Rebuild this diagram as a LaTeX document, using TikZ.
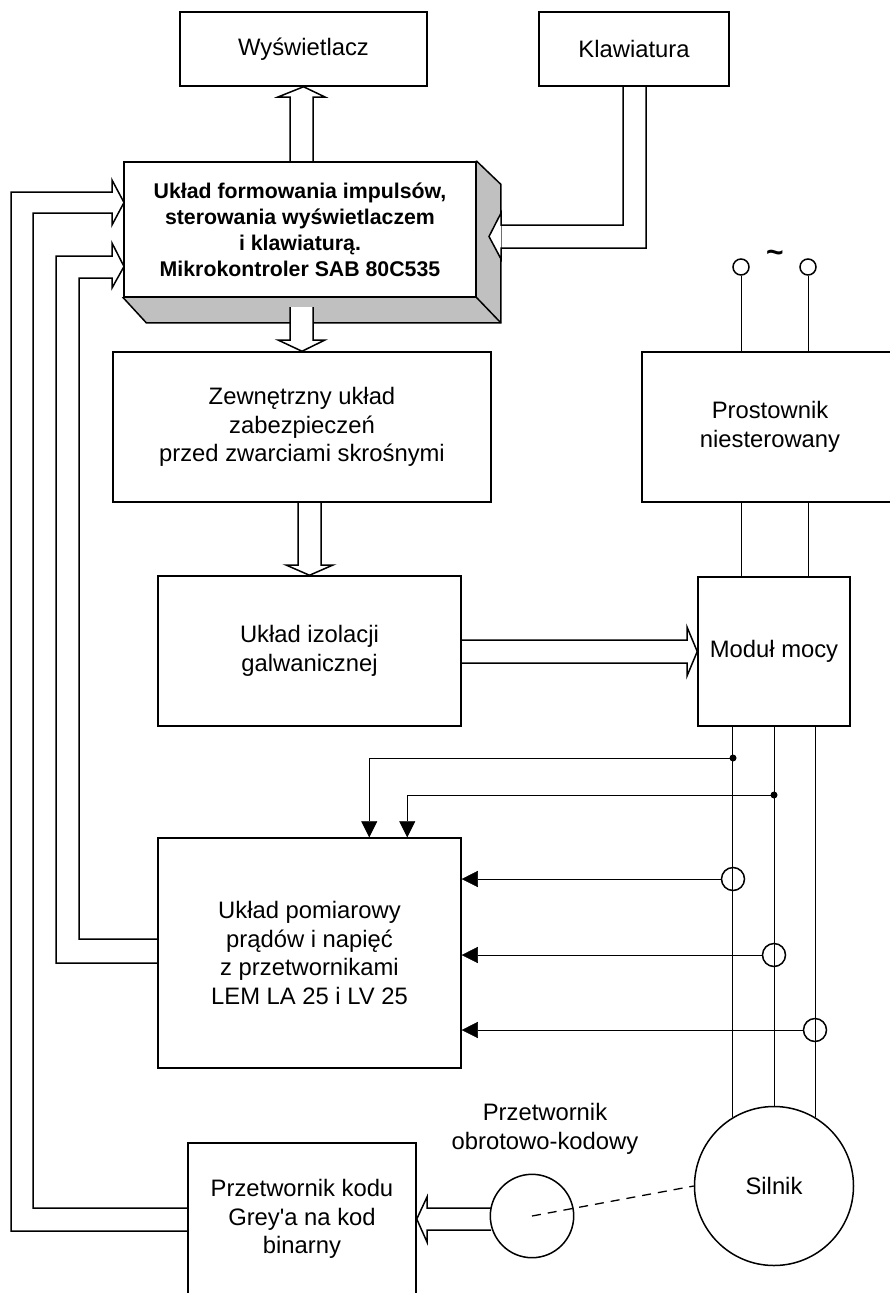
\documentclass[tikz,border=0pt]{standalone}
\usepackage{fontspec}
\setmainfont{Liberation Sans}
\usetikzlibrary{arrows.meta,calc}
\definecolor{shade}{RGB}{192,192,192}
\pgfdeclarelayer{bg}
\pgfsetlayers{bg,main}
\begin{document}
\begin{tikzpicture}[x=1pt,y=-1pt,line width=1.5pt,
  box/.style={draw,fill=white,inner sep=0pt,align=center,font=\fontsize{23.8}{28.5}\selectfont},
  txt/.style={inner sep=0pt,align=center,font=\fontsize{23.8}{28.5}\selectfont},
  ring/.style={draw,circle,inner sep=0pt},
  sig/.style={-{Triangle[length=16pt,width=16pt]}},
  bus/.style={line width=1.5pt},
  shaft/.style={dash pattern=on 9pt off 7pt,line width=1.3pt}]
\useasboundingbox (0,0) rectangle (890,1293);

% blocks
\node[box,minimum width=247pt,minimum height=74pt] (wys) at (303.5,49) {Wyświetlacz};
\node[box,minimum width=190pt,minimum height=74pt] (kla) at (634,49) {Klawiatura};
\node[box,minimum width=352pt,minimum height=135pt,font=\bfseries\fontsize{21.3}{26}\selectfont] (mcu) at (300,229.5)
  {Układ formowania impulsów,\\sterowania wyświetlaczem\\i klawiaturą.\\Mikrokontroler SAB 80C535};
\node[box,minimum width=378pt,minimum height=150pt] (zew) at (302,427)
  {Zewnętrzny układ\\zabezpieczeń\\przed zwarciami skrośnymi};
\node[box,minimum width=303pt,minimum height=150pt] (izo) at (309.5,651) {Układ izolacji\\galwanicznej};
\node[box,minimum width=152pt,minimum height=149pt] (mod) at (774,651.5) {Moduł mocy};
\node[box,minimum width=256pt,minimum height=150pt] (pro) at (770,427) {Prostownik\\niesterowany};
\node[box,minimum width=303pt,minimum height=230pt] (pom) at (309.5,953)
  {Układ pomiarowy\\prądów i napięć\\z przetwornikami\\LEM LA 25 i LV 25};
\node[box,minimum width=228pt,minimum height=152pt] (kod) at (302,1219)
  {Przetwornik kodu\\Grey\textquotesingle a na kod\\binarny};
\node[ring,minimum size=83.4pt] (enc) at (532,1216) {};
\node[ring,txt,draw,minimum size=159pt] (sil) at (774,1186) {Silnik};
\node[txt] (enclbl) at (545,1129) {Przetwornik\\obrotowo-kodowy};

% supply terminals
\node[ring,minimum size=16pt] (t1) at (741,267) {};
\node[ring,minimum size=16pt] (t2) at (808,267) {};
\node[inner sep=0pt,font=\bfseries\fontsize{30}{30}\selectfont] (tilde) at (775,256) {\textasciitilde};

% current sensors
\node[ring,minimum size=23pt] (s1) at (733,879) {};
\node[ring,minimum size=23pt] (s2) at (774,955) {};
\node[ring,minimum size=23pt] (s3) at (815,1030) {};

\coordinate (j1) at (733,758);
\coordinate (j2) at (774,795);

% background: 3D faces and hollow (bus) arrows
\begin{pgfonlayer}{bg}
\begin{scope}[bus]
\filldraw[fill=shade] (mcu.north east) -- ($(mcu.north east)+(24,23)$) -- ($(mcu.south east)+(24,25)$)
  -- ($(mcu.south west)+(23,25)$) -- (mcu.south west) -- cycle;
\draw (mcu.south east) -- ++(24,25);
% mcu -> wys
\draw[fill=white] (290,162) -- (290,97) -- (278,97) -- (wys.south) -- (325,97) -- (313,97) -- (313,162);
% mcu -> zew
\fill[white] (290,307) rectangle (313,341);
\draw[fill=white] (290,307) -- (290,340) -- (278,340) -- (zew.north) -- (325,340) -- (313,340) -- (313,307);
% zew -> izo
\draw[fill=white] (298,502) -- (298,565) -- (286,565) -- (izo.north) -- (333,565) -- (321,565) -- (321,502);
% izo -> mod
\draw[fill=white] (461,640) -- (687,640) -- (687,627) -- (mod.west) -- (687,676) -- (687,663) -- (461,663);
% kla -> mcu
\fill[white] (501,213) -- (489,236.5) -- (501,259) -- cycle;
\draw (kla.south -| 623,0) |- (501,225) -- (501,213) -- (489,236.5) -- (501,259) -- (501,248) -| (kla.south -| 646,0);
% pom -> mcu
\draw ($(pom.west)+(0,-14)$) -| (79,278) -- (112,278) -- (112,288) -- (124,266.5) -- (112,243) -- (112,256)
  -- (56,256) |- ($(pom.west)+(0,10)$);
% kod -> mcu
\draw ($(kod.west)+(0,-11)$) -| (33,213) -- (112,213) -- (112,225) -- (124,202.5) -- (112,180) -- (112,192)
  -- (11,192) |- ($(kod.west)+(0,12)$);
% enc -> kod
\draw (491,1208) -- (427,1208) -- (427,1197) -- (kod.east |- 0,1219) -- (427,1242) -- (427,1230) -- (491,1230);
\end{scope}
\end{pgfonlayer}

% supply wiring
\draw (t1.south) -- (t1.south |- pro.north);
\draw (t2.south) -- (t2.south |- pro.north);
\draw (pro.south -| t1.south) -- (mod.north -| t1.south);
\draw (pro.south -| t2.south) -- (mod.north -| t2.south);

% motor phases
\draw (mod.south -| sil.121) -- (sil.121);
\draw (mod.south -| sil.north) -- (sil.north);
\draw (mod.south -| sil.59) -- (sil.59);

% voltage taps
\fill (j1) circle[radius=3.5pt];
\fill (j2) circle[radius=3.5pt];
\draw[sig] (j1) -| ($(pom.north west)+(212,0)$);
\draw[sig] (j2) -| ($(pom.north west)+(250,0)$);

% current measurement
\draw[sig] (s1.west) -- (s1.west -| pom.east);
\draw[sig] (s2.west) -- (s2.west -| pom.east);
\draw[sig] (s3.west) -- (s3.west -| pom.east);

% shaft coupling
\draw[shaft] (enc.center) -- (sil.west);
\end{tikzpicture}
\end{document}
